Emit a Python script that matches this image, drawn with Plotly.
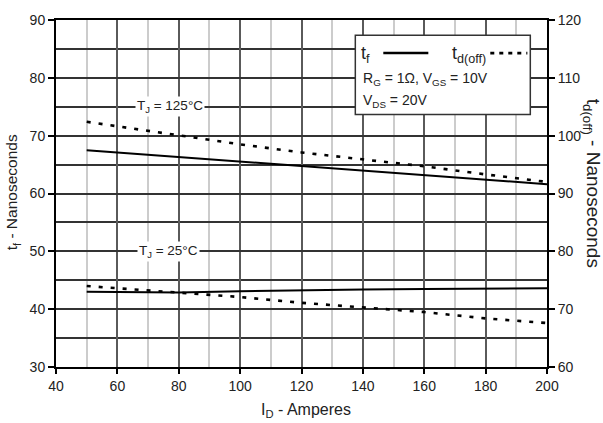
import plotly.graph_objects as go

# ---- data ----
id_amps = [50, 80, 100, 120, 140, 160, 180, 200]
tf_125 = [67.5, 66.3, 65.5, 64.8, 64.0, 63.2, 62.4, 61.6]
td_125 = [102.4, 100.0, 98.5, 97.1, 95.9, 94.7, 93.3, 92.0]
tf_25 = [43.0, 42.9, 43.1, 43.3, 43.4, 43.5, 43.5, 43.6]
td_25 = [74.0, 72.9, 72.1, 71.1, 70.3, 69.5, 68.4, 67.6]

x_ticks = [40, 60, 80, 100, 120, 140, 160, 180, 200]
y_left_ticks = [30, 40, 50, 60, 70, 80, 90]
y_right_ticks = [60, 70, 80, 90, 100, 110, 120]

FONT = "Liberation Sans, Arial, sans-serif"
TXT = "#222222"

fig = go.Figure()
solid = dict(color="black", width=2)
dashed = dict(color="black", width=2.6, dash="4px,8px")

fig.add_trace(go.Scatter(x=id_amps, y=tf_125, mode="lines", line=solid, yaxis="y"))
fig.add_trace(go.Scatter(x=id_amps, y=tf_25, mode="lines", line=solid, yaxis="y"))
fig.add_trace(go.Scatter(x=id_amps, y=td_125, mode="lines", line=dashed, yaxis="y2"))
fig.add_trace(go.Scatter(x=id_amps, y=td_25, mode="lines", line=dashed, yaxis="y2"))

fig.update_layout(
    width=603, height=423,
    margin=dict(l=56, r=56, t=15, b=56),
    paper_bgcolor="white", plot_bgcolor="white",
    showlegend=False,
    font=dict(family=FONT, size=14, color=TXT),
    xaxis=dict(
        range=[40, 200], tickvals=x_ticks, ticks="outside", ticklen=5,
        tickwidth=1.5, tickcolor="black",
        showgrid=True, gridcolor="#5a5a5a", gridwidth=2,
        minor=dict(dtick=10, tick0=40, showgrid=True, gridcolor="#cccccc", gridwidth=2, ticks=""),
        showline=True, linecolor="black", linewidth=2, mirror=True,
        zeroline=False, tickfont=dict(size=14, color=TXT),
    ),
    yaxis=dict(
        range=[30, 90], tickvals=y_left_ticks, ticks="outside", ticklen=6,
        tickwidth=1.5, tickcolor="black",
        showgrid=True, gridcolor="#333333", gridwidth=1.5,
        minor=dict(dtick=5, tick0=30, showgrid=True, gridcolor="#333333", gridwidth=1.5, ticks=""),
        showline=True, linecolor="black", linewidth=2,
        zeroline=False, tickfont=dict(size=14, color=TXT),
    ),
    yaxis2=dict(
        range=[60, 120], tickvals=y_right_ticks, ticks="outside", ticklen=6,
        tickwidth=1.5, tickcolor="black",
        overlaying="y", side="right", showgrid=False,
        showline=True, linecolor="black", linewidth=2,
        zeroline=False, tickfont=dict(size=14, color=TXT),
    ),
)

# axis titles
fig.add_annotation(xref="paper", yref="paper", x=-0.088, y=0.503, textangle=-90,
                   text="t<sub>f</sub> - Nanoseconds", showarrow=False,
                   font=dict(size=15.5, color=TXT), xanchor="center", yanchor="middle")
fig.add_annotation(xref="paper", yref="paper", x=1.091, y=0.529, textangle=90,
                   text="t<sub>d(off)</sub> - Nanoseconds", showarrow=False,
                   font=dict(size=19, color=TXT), xanchor="center", yanchor="middle")
fig.add_annotation(xref="paper", yref="paper", x=0.51, y=-0.125,
                   text="I<sub>D</sub> - Amperes", showarrow=False,
                   font=dict(size=16, color=TXT), xanchor="center", yanchor="middle")

# temperature labels
fig.add_annotation(x=77.3, y=75, text="T<sub>J</sub> = 125°C", showarrow=False,
                   bgcolor="white", borderpad=1, font=dict(size=13.5, color=TXT))
fig.add_annotation(x=76.6, y=50, text="T<sub>J</sub> = 25°C", showarrow=False,
                   bgcolor="white", borderpad=1, font=dict(size=13.5, color=TXT))

# legend box
fig.add_shape(type="rect", xref="paper", yref="paper", x0=0.6096, x1=0.966, y0=0.728, y1=0.956,
              fillcolor="white", line=dict(color="#333333", width=1.5), layer="above")
fig.add_shape(type="line", xref="paper", yref="paper", x0=0.6666, x1=0.7583, y0=0.9046, y1=0.9046,
              line=dict(color="black", width=2.5), layer="above")
fig.add_shape(type="line", xref="paper", yref="paper", x0=0.8845, x1=0.96, y0=0.9046, y1=0.9046,
              line=dict(color="black", width=2.6, dash="4px,5px"), layer="above")
fig.add_annotation(xref="paper", yref="paper", x=0.618, y=0.901, xanchor="left", yanchor="middle",
                   text="t<sub>f</sub>", showarrow=False, font=dict(size=18, color=TXT))
fig.add_annotation(xref="paper", yref="paper", x=0.802, y=0.901, xanchor="left", yanchor="middle",
                   text="t<sub>d(off)</sub>", showarrow=False, font=dict(size=18, color=TXT))
fig.add_annotation(xref="paper", yref="paper", x=0.622, y=0.831, xanchor="left", yanchor="middle",
                   text="R<sub>G</sub> = 1Ω, V<sub>GS</sub> = 10V", showarrow=False,
                   font=dict(size=14, color=TXT))
fig.add_annotation(xref="paper", yref="paper", x=0.622, y=0.768, xanchor="left", yanchor="middle",
                   text="V<sub>DS</sub> = 20V", showarrow=False,
                   font=dict(size=14, color=TXT))

fig.write_html("out.html")
